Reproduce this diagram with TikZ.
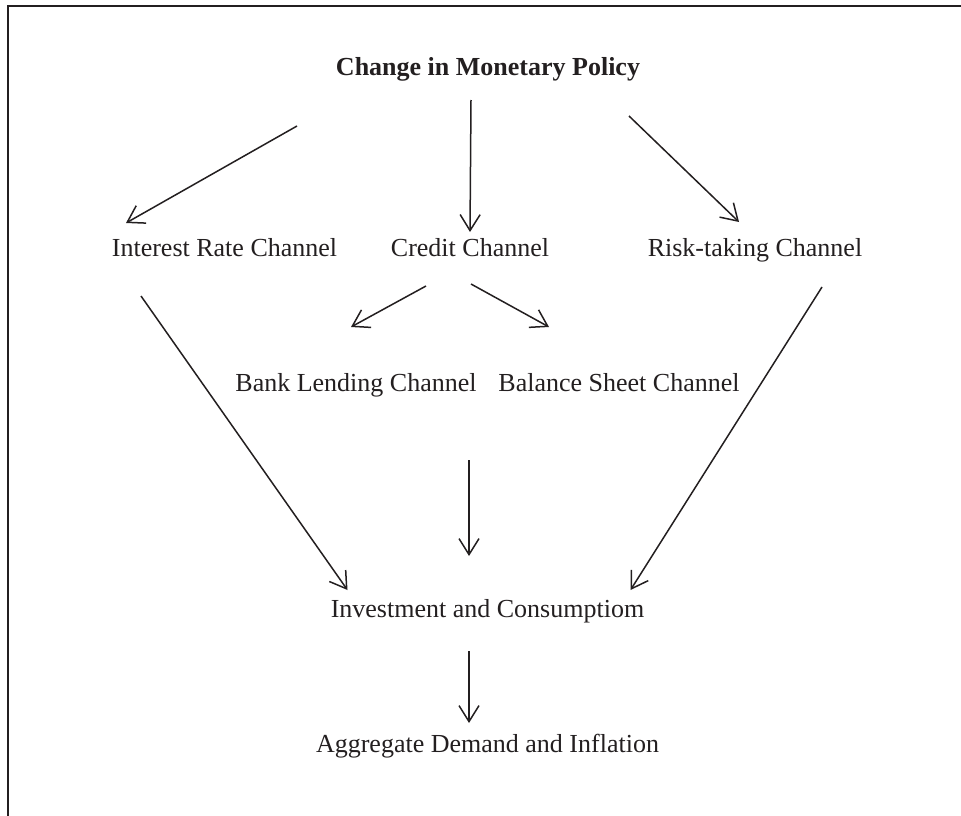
\documentclass[tikz,border=0pt]{standalone}
\usepackage{fontspec}
\setmainfont{Liberation Serif}
\usetikzlibrary{arrows.meta}
\definecolor{ink}{HTML}{231F20}

\begin{document}
\begin{tikzpicture}[x=1pt, y=-1pt,
    lbl/.style={font=\fontsize{26}{31}\selectfont, text=ink,
                inner sep=0pt, anchor=base},
    arr/.style={-{Straight Barb[length=16pt, width=20pt]},
                line width=1.5pt, draw=ink}
  ]
    \useasboundingbox (0,0) rectangle (961,816);
    % open frame (top and left edges)
    \draw[line width=2.4pt, ink] (7.7,816) -- (7.7,6) -- (961,6);

    \node[lbl, font=\fontsize{26}{31}\selectfont\bfseries] (title) at (488,76)
      {Change in Monetary Policy};
    \node[lbl] (irc) at (224.5,256) {Interest Rate Channel};
    \node[lbl] (cc)  at (470,256)   {Credit Channel};
    \node[lbl] (rtc) at (755,256)   {Risk-taking Channel};
    \node[lbl] (blc) at (356,391)   {Bank Lending Channel};
    \node[lbl] (bsc) at (619,391)   {Balance Sheet Channel};
    \node[lbl] (ic)  at (487.5,617) {Investment and Consumptiom};
    \node[lbl] (adi) at (487.5,752) {Aggregate Demand and Inflation};
    \coordinate (split) at (469,460);

    \draw[arr] ([shift={(-191,50)}]title.base) -- ([shift={(-98.5,-33)}]irc.base);
    \draw[arr] ([shift={(-17,24)}]title.base) -- ([shift={(0,-24)}]cc.base);
    \draw[arr] ([shift={(141,40)}]title.base) -- ([shift={(-16,-34)}]rtc.base);
    \draw[arr] ([shift={(-44,30)}]cc.base) -- ([shift={(-5,-64)}]blc.base);
    \draw[arr] ([shift={(1,28)}]cc.base) -- ([shift={(-70,-64)}]bsc.base);
    \draw[arr] ([shift={(-83.5,40)}]irc.base) -- ([shift={(-140,-27)}]ic.base);
    \draw[arr] ([shift={(67,31)}]rtc.base) -- ([shift={(143,-27)}]ic.base);
    \draw[arr] (split) -- ([shift={(-18.5,-61)}]ic.base);
    \draw[arr] ([shift={(-18.5,34)}]ic.base) -- ([shift={(-18.5,-29)}]adi.base);
  \end{tikzpicture}
\end{document}
